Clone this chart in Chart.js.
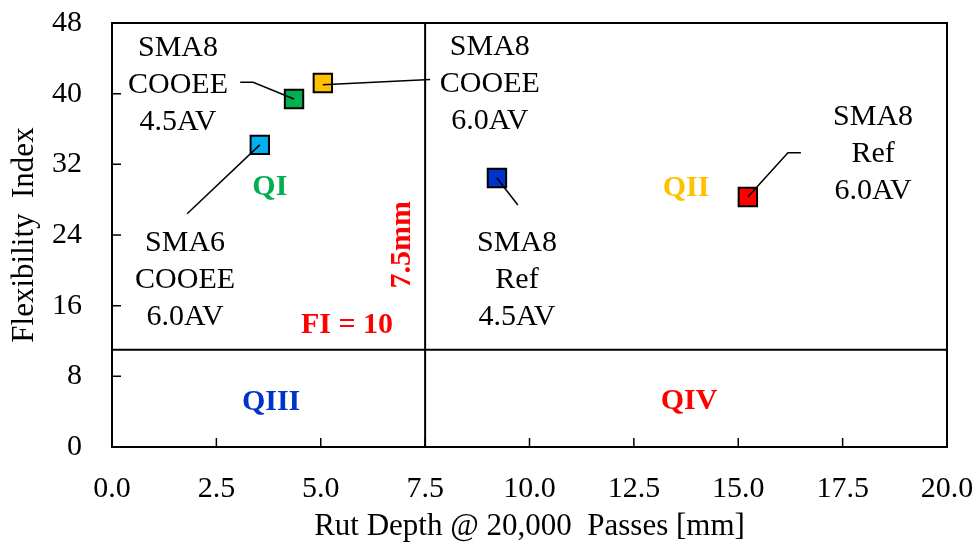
<!DOCTYPE html>
<html>
<head>
<meta charset="utf-8">
<script src="https://cdn.jsdelivr.net/npm/chart.js@4.4.1/dist/chart.umd.min.js"></script>
<style>
  html, body { margin: 0; padding: 0; background: #fff; }
  #wrap { width: 980px; height: 548px; }
</style>
</head>
<body>
<div id="wrap"><canvas id="quadChart" width="980" height="548"></canvas></div>
<script>
// data
const mixes = ['SMA6 COOEE 6.0AV', 'SMA8 COOEE 4.5AV', 'SMA8 COOEE 6.0AV', 'SMA8 Ref 4.5AV', 'SMA8 Ref 6.0AV'];
const rutDepth = [3.54, 4.36, 5.05, 9.22, 15.23];
const flexIndex = [34.2, 39.4, 41.2, 30.45, 28.3];
const markerColors = ['#00B0F0', '#00B050', '#FFC000', '#0033CC', '#FF0000'];

// quadrant limits
const rutLimit = 7.5;
const fiLimit = 11;

// axis ranges / ticks
const xMin = 0, xMax = 20, xStep = 2.5;
const yMin = 0, yMax = 48, yStep = 8;

// leader lines from each marker to its label (data units)
const leaders = [
    [{x: 3.54, y: 34.2}, {x: 1.80, y: 26.4}],
    [{x: 3.07, y: 41.3}, {x: 3.38, y: 41.3}, {x: 4.36, y: 39.4}],
    [{x: 5.05, y: 41.0}, {x: 7.62, y: 41.6}],
    [{x: 9.22, y: 30.45}, {x: 9.72, y: 27.4}],
    [{x: 15.23, y: 28.3}, {x: 16.19, y: 33.3}, {x: 16.50, y: 33.3}]
];

// label text and where it sits (middle line centre, data units)
const labelLines = [
    ['SMA6', 'COOEE', '6.0AV'],
    ['SMA8', 'COOEE', '4.5AV'],
    ['SMA8', 'COOEE', '6.0AV'],
    ['SMA8', 'Ref', '4.5AV'],
    ['SMA8', 'Ref', '6.0AV']
];
const labelX = [1.75, 1.58, 9.05, 9.70, 18.23];
const labelY = [18.9, 41.0, 41.1, 18.9, 33.1];

// quadrant captions
const quadText = ['QI', 'QII', 'QIII', 'QIV', 'FI = 10'];
const quadX = [3.78, 13.75, 3.81, 13.82, 5.63];
const quadY = [29.4, 29.3, 5.1, 5.2, 13.8];
const quadColors = ['#00B050', '#FFC000', '#0033CC', '#FF0000', '#FF0000'];
const limitText = '7.5mm';
const limitX = 6.95, limitY = 22.9;

const serif = '"Liberation Serif", "Times New Roman", serif';

// frame + inward ticks
const framePlugin = {
    id: 'frame',
    beforeDatasetsDraw(chart) {
        const {ctx, chartArea: a, scales: {x, y}} = chart;
        ctx.save();
        ctx.strokeStyle = '#000';
        ctx.lineWidth = 2;
        ctx.strokeRect(a.left, a.top, a.right - a.left, a.bottom - a.top);
        ctx.lineWidth = 1.5;
        ctx.beginPath();
        x.ticks.forEach(t => {
            const px = x.getPixelForValue(t.value);
            ctx.moveTo(px, a.bottom);
            ctx.lineTo(px, a.bottom - 9);
        });
        y.ticks.forEach(t => {
            const py = y.getPixelForValue(t.value);
            ctx.moveTo(a.left, py);
            ctx.lineTo(a.left + 9, py);
        });
        ctx.stroke();
        ctx.restore();
    }
};

// all the text inside the plot
const notesPlugin = {
    id: 'notes',
    afterDatasetsDraw(chart) {
        const {ctx, scales: {x, y}} = chart;
        ctx.save();
        ctx.textAlign = 'center';
        ctx.textBaseline = 'middle';
        ctx.fillStyle = '#000';
        ctx.font = '30px ' + serif;
        const lh = 37;
        labelLines.forEach((lines, i) => {
            const cx = x.getPixelForValue(labelX[i]);
            const cy = y.getPixelForValue(labelY[i]);
            lines.forEach((s, j) => {
                ctx.fillText(s, cx, cy + (j - (lines.length - 1) / 2) * lh);
            });
        });
        ctx.font = 'bold 30px ' + serif;
        quadText.forEach((s, i) => {
            ctx.fillStyle = quadColors[i];
            ctx.fillText(s, x.getPixelForValue(quadX[i]), y.getPixelForValue(quadY[i]));
        });
        ctx.translate(x.getPixelForValue(limitX), y.getPixelForValue(limitY));
        ctx.rotate(-Math.PI / 2);
        ctx.fillStyle = '#FF0000';
        ctx.fillText(limitText, 0, 0);
        ctx.restore();
    }
};

const leaderSets = leaders.map(pts => ({
    type: 'line',
    data: pts,
    borderColor: '#000',
    borderWidth: 1.5,
    pointRadius: 0,
    fill: false,
    tension: 0,
    order: 0
}));

const ctx = document.getElementById('quadChart').getContext('2d');
const chart = new Chart(ctx, {
    type: 'scatter',
    data: {
        datasets: [
            ...leaderSets,
            {
                label: 'Mixes',
                data: rutDepth.map((v, i) => ({x: v, y: flexIndex[i]})),
                pointStyle: 'rect',
                pointRadius: 13,
                pointHoverRadius: 13,
                backgroundColor: markerColors,
                borderColor: '#000',
                borderWidth: 2,
                order: 1
            },
            {
                type: 'line',
                data: [{x: rutLimit, y: yMin}, {x: rutLimit, y: yMax}],
                borderColor: '#000',
                borderWidth: 2,
                pointRadius: 0,
                order: 2
            },
            {
                type: 'line',
                data: [{x: xMin, y: fiLimit}, {x: xMax, y: fiLimit}],
                borderColor: '#000',
                borderWidth: 2,
                pointRadius: 0,
                order: 2
            }
        ]
    },
    options: {
        responsive: false,
        animation: false,
        events: [],
        layout: { padding: { top: 23, right: 33, left: 0, bottom: 0 } },
        plugins: {
            legend: { display: false },
            tooltip: { enabled: false }
        },
        scales: {
            x: {
                type: 'linear',
                min: xMin,
                max: xMax,
                grid: { display: false },
                border: { display: false },
                ticks: {
                    stepSize: xStep,
                    color: '#000',
                    font: { family: serif, size: 30 },
                    padding: 16,
                    maxRotation: 0,
                    callback: v => v.toFixed(1)
                },
                title: {
                    display: true,
                    text: 'Rut Depth @ 20,000  Passes [mm]',
                    color: '#000',
                    font: { family: serif, size: 31 },
                    padding: { top: 0, bottom: 3 }
                },
                afterFit: s => {
                    s.height = 101;
                    s.paddingLeft = 0;
                    s.paddingRight = 0;
                }
            },
            y: {
                type: 'linear',
                min: yMin,
                max: yMax,
                grid: { display: false },
                border: { display: false },
                ticks: {
                    stepSize: yStep,
                    color: '#000',
                    font: { family: serif, size: 30 },
                    padding: 22
                },
                title: {
                    display: true,
                    text: 'Flexibility  Index',
                    color: '#000',
                    font: { family: serif, size: 31 },
                    padding: { top: 6, bottom: 0 }
                },
                afterFit: s => {
                    s.width = 112;
                    s.paddingTop = 0;
                    s.paddingBottom = 0;
                }
            }
        }
    },
    plugins: [framePlugin, notesPlugin]
});
</script>
</body>
</html>
